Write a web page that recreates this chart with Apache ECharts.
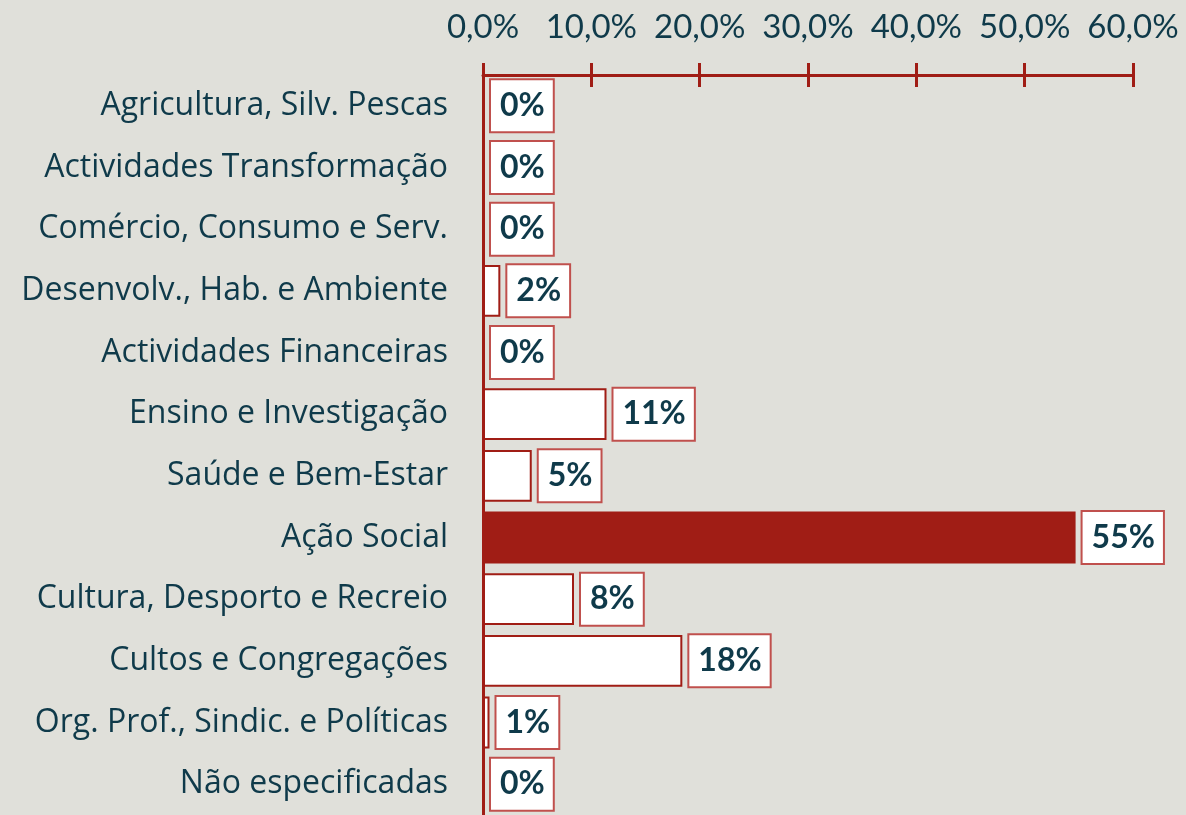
<!DOCTYPE html>
<html>
<head>
<meta charset="utf-8">
<script src="https://cdn.jsdelivr.net/npm/echarts@6/dist/echarts.min.js"></script>
<style>
  html, body { margin: 0; padding: 0; background: #e0e0da; }
  #chart { width: 1186px; height: 815px; }
</style>
</head>
<body>
<div id="chart"></div>
<script>
// sectores de actividade
var categories = [
  'Agricultura, Silv. Pescas',
  'Actividades Transformação',
  'Comércio, Consumo e Serv.',
  'Desenvolv., Hab. e Ambiente',
  'Actividades Financeiras',
  'Ensino e Investigação',
  'Saúde e Bem-Estar',
  'Ação Social',
  'Cultura, Desporto e Recreio',
  'Cultos e Congregações',
  'Org. Prof., Sindic. e Políticas',
  'Não especificadas'
];
// percentagens
var values = [0, 0, 0, 1.6, 0, 11.4, 4.5, 54.7, 8.4, 18.4, 0.6, 0];
var axisMin = 0, axisMax = 60, axisStep = 10;

var red = '#a01d15';
var ink = '#0f3a4a';
var topIndex = values.indexOf(Math.max.apply(null, values));

var chart = echarts.init(document.getElementById('chart'));
chart.setOption({
  backgroundColor: '#e0e0da',
  animation: false,
  grid: { left: 483, right: 53, top: 75, height: 746 },
  xAxis: [{
    type: 'value',
    position: 'top',
    min: axisMin, max: axisMax, interval: axisStep,
    axisLine: { show: true, lineStyle: { color: red, width: 3 } },
    axisTick: { show: true, length: 12, lineStyle: { color: red, width: 3 } },
    splitLine: { show: false },
    axisLabel: {
      margin: 31,
      color: ink,
      fontFamily: 'Lato',
      fontSize: 33,
      formatter: function (v) { return v.toFixed(1).replace('.', ',') + '%'; }
    }
  }, {
    // ticks por baixo da linha
    type: 'value',
    position: 'top',
    min: axisMin, max: axisMax, interval: axisStep,
    axisLine: { show: false },
    axisTick: { show: true, inside: true, length: 12, lineStyle: { color: red, width: 3 } },
    axisLabel: { show: false },
    splitLine: { show: false }
  }],
  yAxis: {
    type: 'category',
    inverse: true,
    data: categories,
    axisLine: { show: true, lineStyle: { color: red, width: 3 } },
    axisTick: { show: false },
    axisLabel: {
      margin: 35,
      color: ink,
      fontFamily: 'Open Sans',
      fontSize: 32,
      padding: [4, 0, 0, 0]
    }
  },
  series: [{
    type: 'bar',
    xAxisIndex: 0,
    data: values,
    barCategoryGap: '16%',
    itemStyle: {
      color: function (p) { return p.dataIndex === topIndex ? red : '#ffffff'; },
      borderColor: red,
      borderWidth: 2
    },
    label: {
      show: true,
      position: 'right',
      distance: 7,
      formatter: function (p) { return Math.round(p.value) + '%'; },
      color: ink,
      fontFamily: 'Lato',
      fontWeight: 'bold',
      fontSize: 32,
      lineHeight: 34,
      backgroundColor: '#ffffff',
      borderColor: '#c0504d',
      borderWidth: 2,
      padding: [9, 8, 8, 9]
    }
  }]
});
</script>
</body>
</html>
